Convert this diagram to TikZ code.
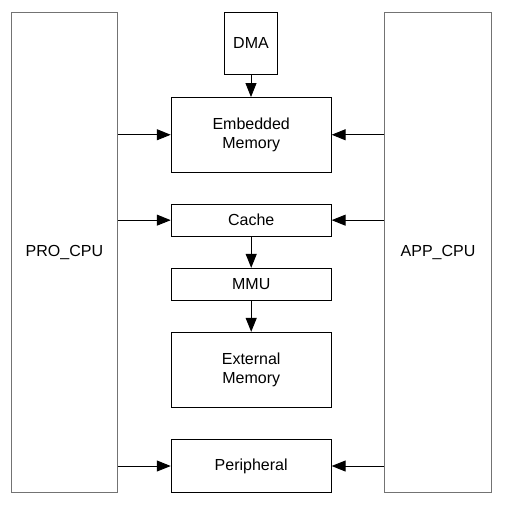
\documentclass[tikz,border=0pt]{standalone}
\usepackage{fontspec}
\setmainfont{Liberation Sans}
\usetikzlibrary{arrows.meta}
\begin{document}
\begin{tikzpicture}[x=1pt,y=-1pt,
  every node/.style={font=\fontsize{16}{19.2}\selectfont},
  blk/.style={draw=black,line width=0.9pt,inner sep=0pt,align=center},
  cpu/.style={draw=black!55,line width=0.9pt,inner sep=0pt,align=center},
  arr/.style={line width=0.9pt,-{Triangle[length=14pt,width=11pt]}}]
\useasboundingbox (0,0) rectangle (505,504);
\node[cpu,minimum width=105.8pt,minimum height=480.4pt] (pro) at (64.4,252.5) {PRO\_CPU};
\node[cpu,minimum width=107pt,minimum height=480.4pt] (app) at (438,252.5) {APP\_CPU};
\node[blk,minimum width=53pt,minimum height=61.7pt] (dma) at (251,43.15) {DMA};
\node[blk,minimum width=160pt,minimum height=74.5pt] (emb) at (251.2,134.75) {Embedded\\Memory};
\node[blk,minimum width=160pt,minimum height=31.7pt] (cache) at (251.2,220.15) {Cache};
\node[blk,minimum width=160pt,minimum height=31.7pt] (mmu) at (251.2,284.15) {MMU};
\node[blk,minimum width=160pt,minimum height=75pt] (ext) at (251.2,369.8) {External\\Memory};
\node[blk,minimum width=160pt,minimum height=53.4pt] (per) at (251.2,466) {Peripheral};
\draw[arr] (dma.south) -- (dma.south |- emb.north);
\draw[arr] (cache.south) -- (mmu.north);
\draw[arr] (mmu.south) -- (ext.north);
\foreach \n in {emb,cache,per}{
  \draw[arr] (\n.center -| pro.east) -- (\n.west);
  \draw[arr] (\n.center -| app.west) -- (\n.east);
}
\end{tikzpicture}
\end{document}
